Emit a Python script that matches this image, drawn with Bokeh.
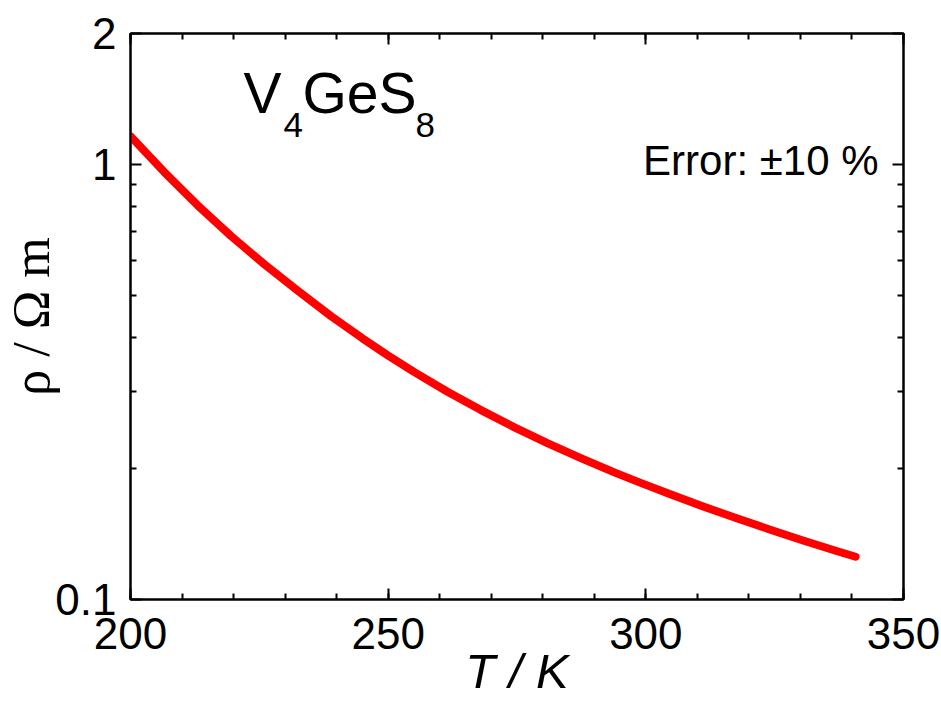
from bokeh.plotting import figure
from bokeh.models import Range1d, LinearAxis, LogAxis, FixedTicker, Label
from bokeh.embed import file_html
from bokeh.resources import INLINE

# ---- data ----
T_K = [200, 206.5, 213, 219.5, 226, 232.5, 239, 245, 250, 255, 261.5, 268,
       274.5, 281, 287.5, 294, 299, 304.5, 311, 317.5, 324, 330.5, 337, 340.7]
rho = [1.161, 0.9616, 0.806, 0.6846, 0.5894, 0.5119, 0.4473, 0.3984, 0.3637,
       0.3336, 0.3003, 0.2725, 0.2487, 0.2284, 0.2111, 0.1957, 0.1854, 0.1750,
       0.1638, 0.1539, 0.1449, 0.1367, 0.1293, 0.1254]

x_major = [200, 250, 300, 350]
x_minor = [200, 210, 220, 230, 240, 250, 260, 270, 280, 290, 300, 310, 320,
           330, 340, 350]
y_major = [0.1, 1, 2]
y_minor = [0.2, 0.3, 0.4, 0.5, 0.6, 0.7, 0.8, 0.9]
y_labels = {0.1: "0.1", 1: "1", 2: "2"}
x_title = "T / K"
y_title = "\u03c1 / \u03a9 m"

SANS = "Liberation Sans"
SERIF = "Liberation Serif"

p = figure(width=941, height=702, x_axis_type="linear", y_axis_type="log",
           x_range=Range1d(200, 350), y_range=Range1d(0.1, 2),
           output_backend="svg", toolbar_location=None,
           min_border_left=129, min_border_right=38,
           min_border_top=33, min_border_bottom=103)
p.background_fill_color = "white"
p.border_fill_color = "white"
p.outline_line_color = "black"
p.outline_line_width = 2
p.xgrid.visible = False
p.ygrid.visible = False


def style_axis(ax):
    ax.axis_line_color = "black"
    ax.axis_line_width = 2
    ax.major_tick_line_color = "black"
    ax.major_tick_line_width = 2
    ax.minor_tick_line_color = "black"
    ax.minor_tick_line_width = 2
    ax.major_tick_in = 11
    ax.major_tick_out = 0
    ax.minor_tick_in = 6
    ax.minor_tick_out = 0
    ax.major_label_text_font = SANS
    ax.major_label_text_font_size = "44px"
    ax.major_label_text_color = "black"


p.xaxis.ticker = FixedTicker(ticks=x_major, minor_ticks=x_minor)
p.yaxis.ticker = FixedTicker(ticks=y_major, minor_ticks=y_minor)
p.yaxis.major_label_overrides = y_labels
style_axis(p.xaxis[0])
style_axis(p.yaxis[0])
p.xaxis.major_label_standoff = 18
p.yaxis.major_label_standoff = 14

p.xaxis.axis_label = x_title
p.xaxis.axis_label_text_font = SANS
p.xaxis.axis_label_text_font_style = "italic"
p.xaxis.axis_label_text_font_size = "49px"
p.xaxis.axis_label_text_color = "black"
p.xaxis.axis_label_standoff = -8

p.yaxis.axis_label = y_title
p.yaxis.axis_label_text_font = SERIF
p.yaxis.axis_label_text_font_style = "normal"
p.yaxis.axis_label_text_font_size = "52px"
p.yaxis.axis_label_text_color = "black"
p.yaxis.axis_label_standoff = -8

top = LinearAxis(ticker=FixedTicker(ticks=x_major, minor_ticks=x_minor))
style_axis(top)
top.major_label_overrides = {v: "" for v in x_major}
top.major_label_text_font_size = "1px"
top.major_label_standoff = 0
p.add_layout(top, "above")
right = LogAxis(ticker=FixedTicker(ticks=y_major, minor_ticks=y_minor))
style_axis(right)
right.major_label_overrides = {v: "" for v in y_major}
right.major_label_text_font_size = "1px"
right.major_label_standoff = 0
p.add_layout(right, "right")

# ---- data curve ----
p.line(T_K, rho, line_color="#ff0000", line_width=8, line_cap="round",
       line_join="round")


# ---- annotations inside the frame ----
def lab(text, x, y, size, align="left"):
    p.add_layout(Label(x=x, y=y, x_units="screen", y_units="screen",
                       text=text, text_font=SANS, text_font_size=size,
                       text_color="black", text_baseline="middle",
                       text_align=align))


# compound title V4GeS8
lab("V", 113, 507, "57px")
lab("4", 153, 475, "35px")
lab("GeS", 172, 507, "57px")
lab("8", 285, 475, "35px")

# error note
lab("Error: \u00b110 %", 748, 439, "42px", align="right")

open("out.html", "w").write(file_html(p, INLINE))
